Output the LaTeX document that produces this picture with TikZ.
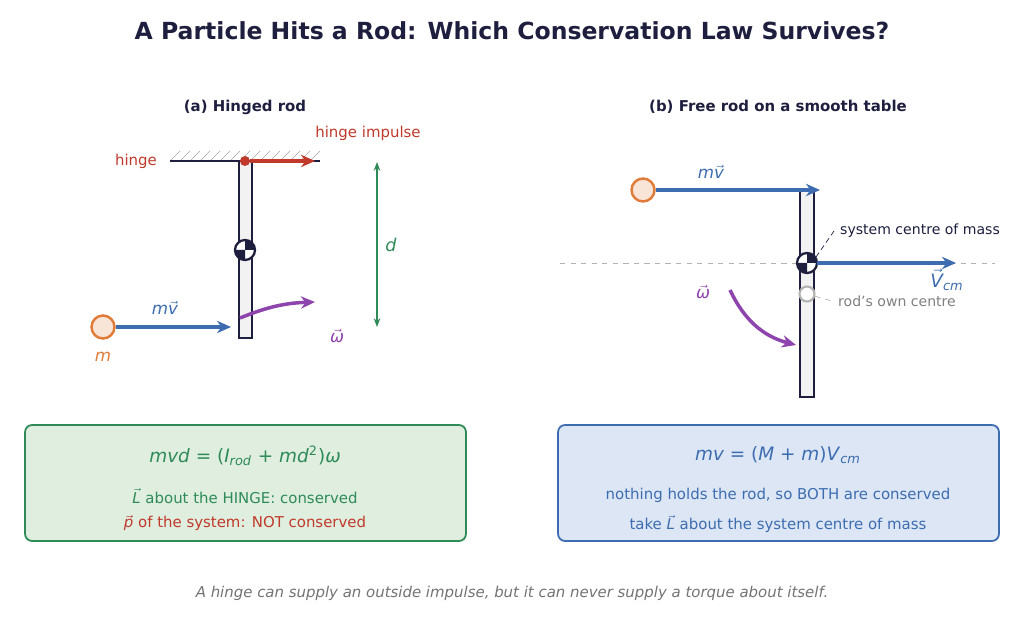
\documentclass[tikz,border=0pt]{standalone}
\usepackage{fontspec}
\setmainfont{DejaVu Sans}
\usepackage{amsmath}
\usetikzlibrary{arrows.meta, positioning}
\definecolor{ink}{HTML}{1E1E3F}
\definecolor{hred}{HTML}{C0392B}
\definecolor{pblue}{HTML}{3D6DB0}
\definecolor{dgreen}{HTML}{2E8B57}
\definecolor{purp}{HTML}{8E44AD}
\definecolor{orng}{HTML}{E07B39}
\definecolor{lgreen}{HTML}{DFEEDF}
\definecolor{lblue}{HTML}{DCE6F4}
\newcommand\vt[1]{$\vec{\text{\itshape #1}}$}
\newcommand\cmark[1]{%
  \fill[white] (#1) circle[radius=0.2cm];
  \fill[ink] (#1) -- ++(0.2cm,0) arc[start angle=0,end angle=90,radius=0.2cm] -- cycle;
  \fill[ink] (#1) -- ++(-0.2cm,0) arc[start angle=180,end angle=270,radius=0.2cm] -- cycle;
  \draw[ink, line width=1.3pt] (#1) circle[radius=0.2cm];}
\begin{document}
\begin{tikzpicture}[x=0.02cm, y=-0.02cm,
    arr/.style={-{Stealth[length=8pt,width=7pt]}, line width=2pt},
    rod/.style={draw=ink, fill=ink!6, line width=1.4pt},
    ball/.style={circle, draw=orng, fill=orng!20, line width=1.4pt, minimum size=0.46cm, inner sep=0pt},
    lbl/.style={font=\fontsize{8.5}{10}\selectfont},
    sym/.style={font=\fontsize{9.5}{11}\selectfont},
    box/.style={rounded corners=4pt, line width=1pt, minimum width=8.82cm, minimum height=2.32cm}]
\useasboundingbox (0,0) rectangle (1024,621);
\node[font=\fontsize{13.4}{15}\selectfont\bfseries, text=ink] (title) at (512,31) {A Particle Hits a Rod: Which Conservation Law Survives?};
\node[lbl, font=\fontsize{8.5}{10}\selectfont\bfseries, text=ink] (suba) at (245,107) {(a) Hinged rod};
\node[lbl, font=\fontsize{8.5}{10}\selectfont\bfseries, text=ink] (subb) at (778,107) {(b) Free rod on a smooth table};

% (a) hinged rod
\foreach \x in {170,180,...,310} \draw[gray!70, thin] (\x,161) -- (\x+10,151);
\draw[ink, line width=1.4pt] (170,161) -- (320,161);
\draw[rod] (239,161) rectangle (252,338);
\cmark{245,250}
\node[circle, fill=hred, inner sep=0pt, minimum size=0.2cm] (hinge) at (245,161) {};
\coordinate (himp) at (315,161);
\draw[arr, hred] (hinge) -- (himp);
\node[lbl, text=hred, anchor=east] (hl) at (163,161) {hinge};
\node[lbl, text=hred] (hil) at (368,133) {hinge impulse};
\coordinate (dtop) at (377,162);
\coordinate (dbot) at (377,327);
\draw[dgreen, line width=1.1pt, {Stealth[length=5pt]}-{Stealth[length=5pt]}] (dtop) -- (dbot);
\node[sym, text=dgreen, font=\fontsize{10}{12}\selectfont\itshape] (dl) at (391,245) {d};
\node[ball] (pa) at (103,327) {};
\coordinate (hitA) at (231,327);
\draw[arr, pblue] (pa) -- (hitA);
\node[sym, text=pblue] (mva) at (165,308) {\textit{m}\vt{v}};
\node[sym, text=orng] (ma) at (103,357) {\textit{m}};
\coordinate (wa1) at (240,318);
\coordinate (wa2) at (315,302);
\draw[arr, purp] (wa1) to[bend left=10] (wa2);
\node[sym, text=purp] (wla) at (337,336) {\vt{ω}};

% (b) free rod
\draw[gray!60, dashed] (560,263) -- (995,263);
\draw[rod] (800,190) rectangle (814,397);
\node[ball] (pb) at (643,190) {};
\coordinate (hitB) at (820,190);
\draw[arr, pblue] (pb) -- (hitB);
\node[sym, text=pblue] (mvb) at (711,172) {\textit{m}\vt{v}};
\node[circle, draw=gray!60, fill=white, line width=1.2pt, minimum size=0.3cm, inner sep=0pt] (rc) at (807,294) {};
\node[lbl, font=\fontsize{8}{10}\selectfont, text=gray, anchor=west] (rcl) at (832,301) {rod's own centre};
\draw[gray!60, dashed] (rc) -- (rcl.west);
\cmark{807,263}
\coordinate (cmb) at (817,263);
\coordinate (vend) at (956,263);
\draw[arr, pblue] (cmb) -- (vend);
\node[sym, text=pblue, font=\fontsize{10.5}{12}\selectfont] (vl) at (947,280) {\vt{V}\textsubscript{\itshape cm}};
\node[lbl, font=\fontsize{8}{10}\selectfont, text=ink, anchor=west] (scl) at (834,231) {system centre of mass};
\coordinate (cmt) at (816,257);
\draw[ink, densely dashed, thin] (cmt) -- (scl.west);
\coordinate (wb1) at (730,290);
\coordinate (wb2) at (796,345);
\draw[arr, purp] (wb1) to[bend right=25] (wb2);
\node[sym, text=purp] (wlb) at (703,292) {\vt{ω}};

% summary boxes
\node[box, draw=dgreen, fill=lgreen] (boxa) at (245.5,483) {};
\node[sym, text=dgreen, font=\fontsize{10.5}{12}\selectfont] (eqa) at (245,456) {\itshape mvd\upshape\ = (\textit{I}\textsubscript{\itshape rod} + \textit{md}\textsuperscript{2})\textit{ω}};
\node[lbl, text=dgreen] (la1) at (245,496) {\vt{L} about the HINGE: conserved};
\node[lbl, text=hred] (la2) at (245,523) {\vt{p} of the system: NOT conserved};
\node[box, draw=pblue, fill=lblue] (boxb) at (778.5,483) {};
\node[sym, text=pblue, font=\fontsize{10.5}{12}\selectfont] (eqb) at (778,455) {\itshape mv\upshape\ = (\textit{M} + \textit{m})\textit{V}\textsubscript{\itshape cm}};
\node[lbl, text=pblue] (lb1) at (778,495) {nothing holds the rod, so BOTH are conserved};
\node[lbl, text=pblue] (lb2) at (778,524) {take \vt{L} about the system centre of mass};

\node[lbl, text=gray!90!black, font=\fontsize{8.5}{10}\selectfont\itshape] (foot) at (512,593) {A hinge can supply an outside impulse, but it can never supply a torque about itself.};
\end{tikzpicture}
\end{document}
